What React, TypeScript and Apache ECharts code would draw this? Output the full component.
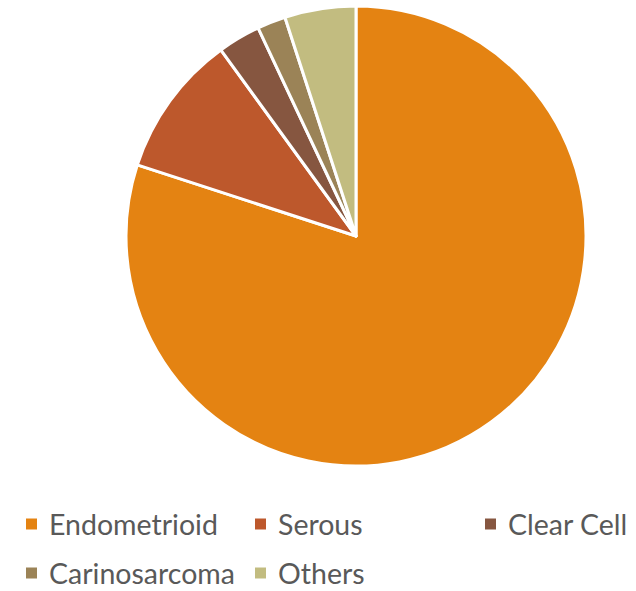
import React, { useEffect, useRef } from "react";
import * as echarts from "echarts";

const categories = ["Endometrioid", "Serous", "Clear Cell", "Carinosarcoma", "Others"];
const values = [80, 10, 3, 2, 5];
const colors = ["#E48312", "#BD582C", "#865640", "#9B8357", "#C2BC80"];

const legendPos = [
  { left: 24, top: 509 },
  { left: 253, top: 509 },
  { left: 483, top: 509 },
  { left: 24, top: 558 },
  { left: 253, top: 558 },
];

export default function App() {
  const ref = useRef<HTMLDivElement>(null);
  useEffect(() => {
    if (!ref.current) return;
    const chart = echarts.init(ref.current, undefined, { renderer: "svg" });
    chart.setOption({
      animation: false,
      color: colors,
      legend: categories.map((name, i) => ({
        data: [name],
        left: legendPos[i].left,
        top: legendPos[i].top,
        padding: 0,
        itemWidth: 13,
        itemHeight: 13,
        icon: "rect",
        selectedMode: false,
        textStyle: {
          fontFamily: "Lato",
          fontSize: 28.5,
          lineHeight: 30,
          color: "#595959",
          padding: [0, 0, 0, 6],
        },
      })),
      series: [
        {
          type: "pie",
          center: [356, 236],
          radius: 230,
          startAngle: 90,
          clockwise: true,
          label: { show: false },
          labelLine: { show: false },
          emphasis: { disabled: true },
          itemStyle: { borderColor: "#ffffff", borderWidth: 3 },
          data: categories.map((name, i) => ({ name, value: values[i] })),
        },
      ],
    });
    return () => chart.dispose();
  }, []);
  return (
    <div
      ref={ref}
      style={{ position: "fixed", left: 0, top: 0, width: 636, height: 591, background: "#fff" }}
    />
  );
}
